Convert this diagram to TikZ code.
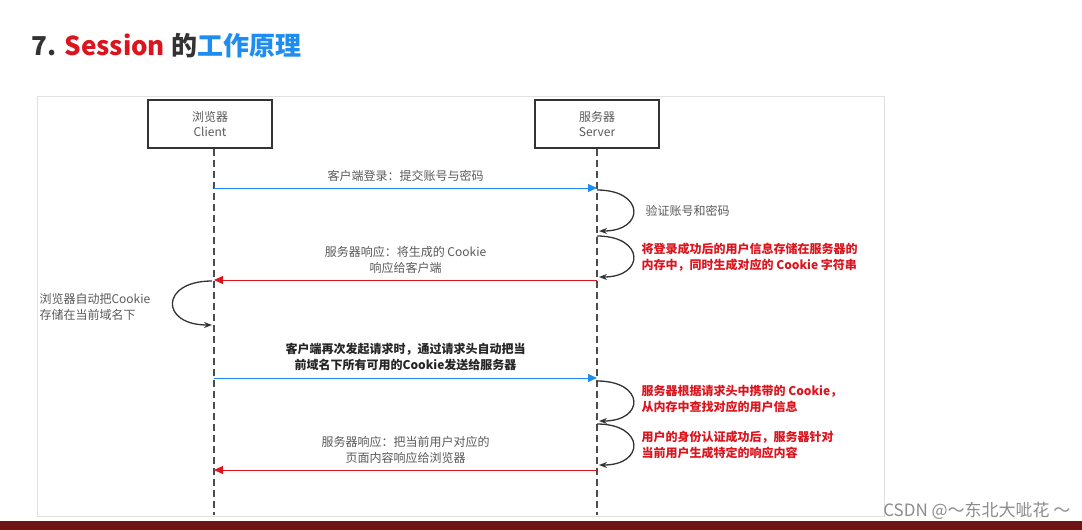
\documentclass[tikz,border=0pt]{standalone}
\usepackage{fontspec}
\setmainfont{Noto Sans CJK SC}
\usetikzlibrary{arrows.meta,positioning}
\definecolor{msgblue}{RGB}{30,140,240}
\definecolor{msgred}{RGB}{220,20,30}
\definecolor{txtgray}{RGB}{90,90,90}
\definecolor{barred}{RGB}{110,20,20}
\tikzset{
  actor/.style={draw=black!80, line width=1.4pt, minimum width=124pt, minimum height=48pt, align=center, font=\fontsize{12}{15}\selectfont, text=txtgray},
  lifeline/.style={line width=1.4pt, black!70, dash pattern=on 7pt off 4pt},
  msg/.style={font=\fontsize{12}{16}\selectfont, align=center},
  note/.style={font=\fontsize{12}{16}\selectfont\bfseries, align=left, text=msgred, anchor=west},
  self/.style={line width=1.3pt, black!80, -{Stealth[length=8pt,width=6pt]}},
}
\begin{document}
\begin{tikzpicture}[x=1pt,y=-1pt]
    % Fond et cadre
    \useasboundingbox (0,0) rectangle (1082,530);
    \fill[white] (0,0) rectangle (1082,530);
    \draw[black!12] (37,96) rectangle (884,516);
    \fill[barred] (0,521) rectangle (1082,530);

    % Titre
    \node[anchor=west, font=\fontsize{26}{30}\selectfont\bfseries] (title) at (28,46)
      {\textcolor{black!80}{7.} \textcolor{msgred}{Session} \textcolor{black!80}{的}\textcolor{msgblue}{工作原理}};

    % Acteurs
    \node[actor] (client) at (210,124) {浏览器\\Client};
    \node[actor] (server) at (597,124) {服务器\\Server};
    \coordinate (cend) at (214,515);
    \coordinate (send) at (597,515);
    \draw[lifeline] (client.south -| cend) -- (cend);
    \draw[lifeline] (server.south) -- (send);

    % Points sur les lignes de vie
    \foreach \y/\n in {188/a, 280/b, 378/c, 470/d} {
      \coordinate (c\n) at (214,\y);
      \coordinate (s\n) at (597,\y);
    }

    % Messages
    \draw[msgblue, thick, -{Triangle[length=9pt,width=8pt]}] (ca) -- (sa)
      node[msg, midway, above=3pt, text=txtgray] (m1) {客户端登录：提交账号与密码};
    \draw[msgred, thick, -{Triangle[length=9pt,width=8pt]}] (sb) -- (cb)
      node[msg, midway, above=3pt, text=txtgray] (m2) {服务器响应：将生成的 Cookie\\响应给客户端};
    \draw[msgblue, thick, -{Triangle[length=9pt,width=8pt]}] (cc) -- (sc)
      node[msg, midway, above=3pt, text=black!85, font=\fontsize{12}{16}\selectfont\bfseries] (m3) {客户端再次发起请求时，通过请求头自动把当\\前域名下所有可用的Cookie发送给服务器};
    \draw[msgred, thick, -{Triangle[length=9pt,width=8pt]}] (sd) -- (cd)
      node[msg, midway, above=3pt, text=txtgray] (m4) {服务器响应：把当前用户对应的\\页面内容响应给浏览器};

    % Boucles du serveur
    \foreach \ya/\yb in {190/231, 236/277, 381/421, 424/465}
      \draw[self] (597,\ya) .. controls (645,\ya) and (645,\yb) .. (599,\yb);

    % Boucle du client
    \draw[self] (212,281) .. controls (160,281) and (160,325) .. (212,325);

    % Notes
    \node[anchor=west, font=\fontsize{12}{16}\selectfont, text=txtgray] (n1) at (642,211) {验证账号和密码};
    \node[note] (n2) at (638,257) {将登录成功后的用户信息存储在服务器的\\内存中，同时生成对应的 Cookie 字符串};
    \node[note] (n3) at (638,399) {服务器根据请求头中携带的 Cookie，\\从内存中查找对应的用户信息};
    \node[note] (n4) at (638,445) {用户的身份认证成功后，服务器针对\\当前用户生成特定的响应内容};
    \node[anchor=west, font=\fontsize{12}{16}\selectfont, text=txtgray, align=left] (n5) at (36,307) {浏览器自动把Cookie\\存储在当前域名下};

    % Filigrane
    \node[anchor=east, font=\fontsize{17}{20}\selectfont, text=black!45] (mark) at (1074,511) {CSDN @～东北大呲花 ～};
\end{tikzpicture}
\end{document}
